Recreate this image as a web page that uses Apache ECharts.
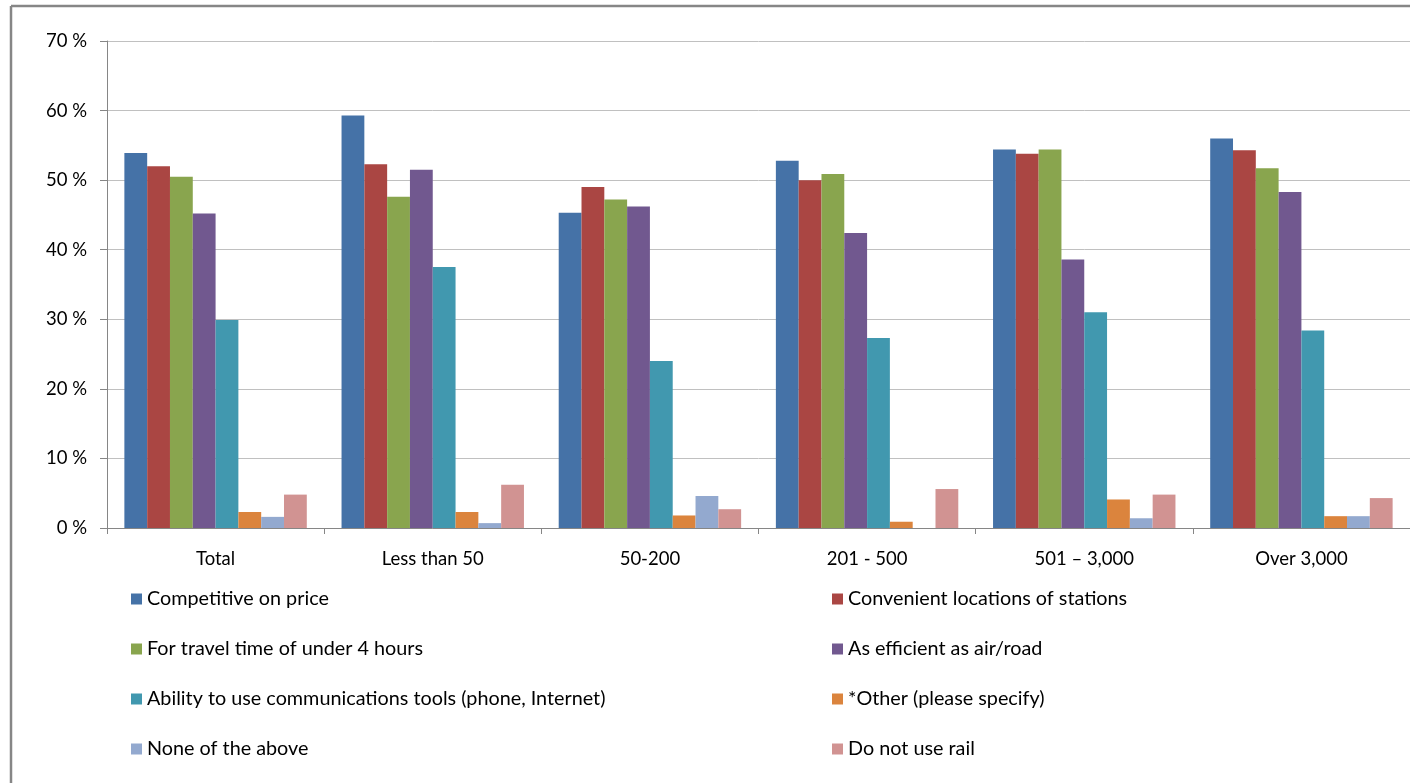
<!DOCTYPE html>
<html>
<head>
<meta charset="utf-8">
<script src="https://cdn.jsdelivr.net/npm/echarts@6/dist/echarts.min.js"></script>
<style>
html,body{margin:0;padding:0;background:#fff;overflow:hidden;}
#chart{width:1410px;height:783px;}
</style>
</head>
<body>
<div id="chart"></div>
<script>
const categories = ["Total", "Less than 50", "50-200", "201 - 500", "501 \u2013 3,000", "Over 3,000"];
const seriesNames = [
  "Competitive on price",
  "Convenient locations of stations",
  "For travel time of under 4 hours",
  "As efficient as air/road",
  "Ability to use communications tools (phone, Internet)",
  "*Other (please specify)",
  "None of the above",
  "Do not use rail"
];
const competitivePrice   = [53.9, 59.3, 45.3, 52.8, 54.4, 56.0];
const convenientStations = [52.0, 52.3, 49.0, 50.0, 53.8, 54.3];
const travelUnder4h      = [50.5, 47.6, 47.2, 50.9, 54.4, 51.7];
const efficientAirRoad   = [45.2, 51.5, 46.2, 42.4, 38.6, 48.3];
const commsTools         = [29.9, 37.5, 24.0, 27.3, 31.0, 28.4];
const otherSpecify       = [2.3, 2.3, 1.8, 0.9, 4.1, 1.7];
const noneOfAbove        = [1.6, 0.7, 4.6, 0.0, 1.4, 1.7];
const doNotUseRail       = [4.8, 6.2, 2.7, 5.6, 4.8, 4.3];
const yTicks = [0, 10, 20, 30, 40, 50, 60, 70];

const seriesData = [competitivePrice, convenientStations, travelUnder4h, efficientAirRoad, commsTools, otherSpecify, noneOfAbove, doNotUseRail];
const colors = ["#4572A7", "#AA4643", "#89A54E", "#71588F", "#4198AF", "#DB843D", "#93A9CF", "#D19392"];

const FONT = "Lato";
const chart = echarts.init(document.getElementById('chart'), null, {renderer: 'canvas'});
const legendCommon = {
  orient: 'vertical',
  top: 589,
  padding: 0,
  itemGap: 30,
  itemWidth: 11,
  itemHeight: 11,
  icon: 'rect',
  selectedMode: false,
  textStyle: {fontFamily: FONT, fontSize: 19.8, color: '#000', lineHeight: 20}
};
const frameStyle = {stroke: '#868686', lineWidth: 2.5};
chart.setOption({
  animation: false,
  color: colors,
  graphic: [
    {type: 'line', shape: {x1: 11, y1: 6, x2: 11, y2: 790}, style: frameStyle, z: -1},
    {type: 'line', shape: {x1: 11, y1: 6, x2: 1415, y2: 6}, style: frameStyle, z: -1}
  ],
  grid: {left: 107, right: -1, top: 41, bottom: 255, containLabel: false},
  legend: [
    Object.assign({left: 131, data: [seriesNames[0], seriesNames[2], seriesNames[4], seriesNames[6]]}, legendCommon),
    Object.assign({left: 832, data: [seriesNames[1], seriesNames[3], seriesNames[5], seriesNames[7]]}, legendCommon)
  ],
  xAxis: {
    type: 'category',
    data: categories,
    axisLine: {lineStyle: {color: '#868686', width: 1}},
    axisTick: {show: true, alignWithLabel: false, length: 6, lineStyle: {color: '#868686'}},
    axisLabel: {fontFamily: FONT, fontSize: 18.5, color: '#000', margin: 22}
  },
  yAxis: {
    type: 'value',
    min: yTicks[0],
    max: yTicks[yTicks.length - 1],
    interval: 10,
    axisLine: {show: true, lineStyle: {color: '#868686', width: 1}},
    axisTick: {show: true, length: 7, lineStyle: {color: '#868686'}},
    splitLine: {show: true, lineStyle: {color: '#c0c0c0', width: 1}},
    axisLabel: {fontFamily: FONT, fontSize: 18.5, color: '#000', margin: 20, formatter: '{value} %'}
  },
  series: seriesNames.map((name, i) => ({
    name: name,
    type: 'bar',
    data: seriesData[i],
    barGap: '0%',
    barCategoryGap: '16%',
    itemStyle: {color: colors[i]}
  }))
});
</script>
</body>
</html>
